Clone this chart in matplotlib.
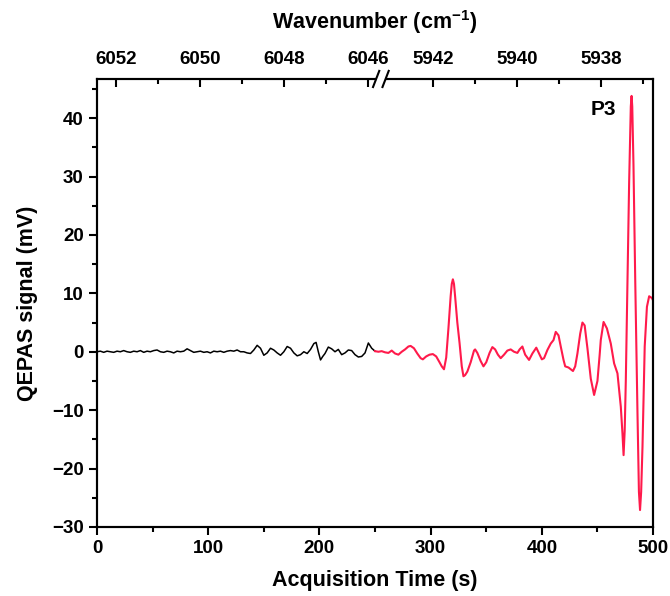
import numpy as np
import matplotlib
matplotlib.use('Agg')
import matplotlib.pyplot as plt
from matplotlib.patches import Rectangle

plt.rcParams['font.family'] = ['Liberation Sans', 'DejaVu Sans']
plt.rcParams['font.weight'] = 'bold'
plt.rcParams['mathtext.fontset'] = 'custom'
plt.rcParams['mathtext.rm'] = 'Liberation Sans:bold'
plt.rcParams['mathtext.bf'] = 'Liberation Sans:bold'

# black trace (first scan, 6052-6046 cm-1)
t_black = [0, 3, 6, 9, 12, 15, 18, 21, 24, 27, 30, 33, 36, 39, 42, 45, 48, 51, 54, 57,
           60, 63, 66, 69, 72, 75, 78, 81, 84, 87, 90, 93, 96, 99, 102, 105, 108, 111, 114, 117,
           120, 123, 126, 129, 132, 135, 138, 141, 144, 147, 150, 153, 156, 159, 162, 165, 168, 171, 174, 177,
           180, 183, 186, 189, 192, 195, 197, 199, 201, 203, 205, 208, 211, 214, 217, 220, 223, 226, 229, 232,
           235, 238, 241, 244, 247, 250]
v_black = [0.0, 0.1, -0.1, 0.1, 0.0, -0.1, 0.1, 0.0, 0.2, 0.0, -0.1, 0.1, 0.0, 0.2, -0.1, 0.1, 0.0, 0.2, 0.3, 0.0,
           -0.1, 0.1, 0.0, -0.2, 0.1, 0.0, 0.1, 0.5, 0.2, -0.1, 0.0, 0.1, -0.1, 0.0, -0.2, 0.1, 0.0, 0.1, -0.1, 0.1,
           0.2, 0.1, 0.3, 0.0, 0.0, -0.2, -0.3, 0.3, 1.1, 0.6, -0.6, -0.2, 0.6, 0.3, -0.2, -0.6, 0.0, 0.9, 0.6, -0.2,
           -0.7, -0.5, 0.0, -0.3, 0.4, 1.4, 1.6, 0.0, -1.4, -0.8, -0.3, 0.8, 0.5, 0.0, 0.4, -0.5, -0.2, 0.3, 0.2, -0.5,
           -0.9, -0.8, -0.2, 1.5, 0.6, 0.1]

# red trace (second scan, 5942-5937 cm-1)
t_red = [250, 253, 256, 259, 262, 265, 268, 271, 274, 277, 280, 282, 285, 288, 291, 293, 296, 299, 302, 305,
         308, 310, 312, 314, 316, 318, 319, 320, 321, 322, 324, 326, 328, 329.5, 331, 333, 336, 339, 340, 342,
         345, 347.5, 350, 353, 355.5, 358, 360.5, 363, 366, 369, 372, 375, 378, 380, 382.5, 385, 388.5, 391.5, 395, 397.5,
         400, 402, 405, 408, 410.5, 412.5, 415, 417, 419.5, 421, 424, 428, 430, 432, 434.5, 436.5, 438.5, 441, 444, 447,
         450, 452, 453, 455.5, 458.5, 462, 465, 468, 471, 472.5, 473.5, 474.5, 475.5, 477, 478.5, 480, 480.7, 481.3, 482.4, 484,
         486, 487.3, 488.3, 489.3, 490.5, 492.5, 494.5, 496.5, 499, 500]
v_red = [0.1, 0.0, 0.1, -0.1, -0.2, 0.2, -0.3, -0.5, 0.0, 0.4, 0.9, 1.0, 0.6, -0.3, -1.1, -1.3, -0.8, -0.5, -0.4, -0.8,
         -1.8, -2.5, -3.0, -1.0, 4.0, 9.5, 11.6, 12.4, 11.6, 9.5, 5.0, 1.5, -2.5, -4.2, -4.0, -3.4, -1.8, 0.2, 0.4, -0.2,
         -1.6, -2.5, -1.8, -0.2, 0.8, 0.4, -0.5, -1.1, -0.5, 0.2, 0.4, 0.0, -0.2, 0.4, 0.9, -0.5, -1.4, -0.3, 0.7, -0.3,
         -1.3, -1.1, 0.3, 1.4, 2.0, 3.4, 2.8, 0.9, -1.4, -2.5, -2.7, -3.3, -2.5, -0.3, 3.1, 5.0, 4.5, 0.6, -4.6, -7.4,
         -5.0, -0.5, 2.0, 5.1, 4.0, 1.4, -2.0, -3.7, -9.4, -14.0, -17.7, -13.5, -5.0, 12.0, 29.0, 42.0, 43.8, 42.0, 32.0, 12.0,
         -10.5, -24.0, -27.1, -24.0, -16.3, 0.9, 7.7, 9.5, 9.2, 8.8]

# top axis: wavenumber tick labels for both scans
wn_left = [6052, 6050, 6048, 6046]
wn_left_minor = [6051, 6049, 6047]
wn_right = [5942, 5940, 5938]
wn_right_minor = [5941, 5939, 5937]


def wn_to_t(wn):
    wn = np.asarray(wn, dtype=float)
    return np.where(wn > 6000, 17 + (6052 - wn) * 37.83, 302 + (5942 - wn) * 37.75)


fig = plt.figure(figsize=(6.7, 5.96), dpi=100)
ax = fig.add_axes([0.1448, 0.1158, 0.8299, 0.7517])

ax.plot(t_black, v_black, color='black', lw=1.1)
ax.plot(t_red, v_red, color='#ff1a4b', lw=1.5)

ax.set_xlim(0, 500)
ax.set_ylim(-30, 46.7)
ax.set_xticks([0, 100, 200, 300, 400, 500])
ax.set_xticks([50, 150, 250, 350, 450], minor=True)
ax.set_yticks([-30, -20, -10, 0, 10, 20, 30, 40])
ax.set_yticks([-25, -15, -5, 5, 15, 25, 35, 45], minor=True)
ax.tick_params(axis='both', which='major', direction='out', length=6, width=1.5, labelsize=13.5)
ax.tick_params(axis='both', which='minor', direction='out', length=3.5, width=1.5)
ax.tick_params(right=False, top=False, which='both')
for s in ax.spines.values():
    s.set_linewidth(1.5)

ax.set_xlabel('Acquisition Time (s)', fontsize=15.5, fontweight='bold', labelpad=9)
ax.set_ylabel('QEPAS signal (mV)', fontsize=15.5, fontweight='bold', labelpad=10)

ax2 = ax.twiny()
ax2.set_xlim(ax.get_xlim())
ax2.set_xticks(wn_to_t(wn_left + wn_right))
ax2.set_xticklabels([str(w) for w in wn_left + wn_right])
ax2.set_xticks(wn_to_t(wn_left_minor + wn_right_minor), minor=True)
ax2.tick_params(axis='x', which='major', direction='in', length=6, width=1.5, labelsize=13.5, pad=8)
ax2.tick_params(axis='x', which='minor', direction='in', length=3.5, width=1.5)
for s in ax2.spines.values():
    s.set_linewidth(1.5)
ax2.set_xlabel('Wavenumber (cm$^{-1}$)', fontsize=15.5, fontweight='bold', labelpad=16)

# axis break on the top spine
trans = ax.get_xaxis_transform()
ax2.add_patch(Rectangle((251.5, 0.985), 7, 0.03, transform=trans, color='white',
                        clip_on=False, zorder=5))
for xc in (251.0, 259.5):
    ax2.plot([xc - 2.8, xc + 2.8], [0.982, 1.018], transform=trans, color='black',
             lw=1.5, clip_on=False, zorder=6)

ax.text(455, 41.4, 'P3', fontsize=15, fontweight='bold', ha='center', va='center')

fig.savefig('out.png', dpi=100)
